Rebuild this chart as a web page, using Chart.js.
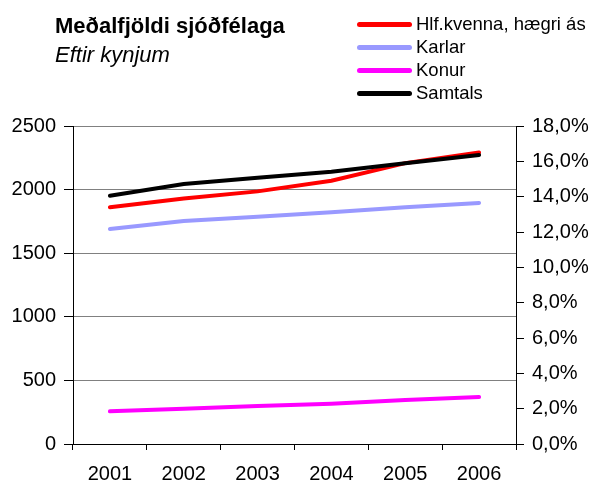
<!DOCTYPE html>
<html>
<head>
<meta charset="utf-8">
<script src="https://cdn.jsdelivr.net/npm/chart.js@4/dist/chart.umd.min.js"></script>
<style>
  body { margin: 0; background: #fff; font-family: "Liberation Sans", Arial, sans-serif; }
  #wrap { position: relative; width: 593px; height: 483px; }
  #title { position: absolute; left: 55px; top: 13px; font-size: 22px; font-weight: bold; color: #000; }
  #sub { position: absolute; left: 55px; top: 42px; font-size: 22px; font-style: italic; color: #000; }
  #legend { position: absolute; left: 357px; top: 12px; font-size: 18.5px; color: #000; }
  #legend div { height: 23px; line-height: 23px; white-space: nowrap; }
  #legend span.l { display: inline-block; width: 55px; height: 5px; border-radius: 2.5px; vertical-align: middle; margin-right: 4px; position: relative; top: -1px; }
</style>
</head>
<body>
<div id="wrap">
  <canvas id="chart" width="593" height="483"></canvas>
  <div id="title">Meðalfjöldi sjóðfélaga</div>
  <div id="sub">Eftir kynjum</div>
  <div id="legend"></div>
</div>
<script>
const years = ["2001", "2002", "2003", "2004", "2005", "2006"];
const hlfKvenna = [13.4, 13.9, 14.3, 14.9, 15.9, 16.5];
const karlar = [1690, 1753, 1787, 1821, 1861, 1895];
const konur = [257, 278, 299, 317, 346, 369];
const samtals = [1952, 2044, 2094, 2141, 2207, 2272];
const names = ["Hlf.kvenna, hægri ás", "Karlar", "Konur", "Samtals"];
const colors = ["#ff0000", "#9999ff", "#ff00ff", "#000000"];

const FONT = { family: "'Liberation Sans', Arial, sans-serif", size: 20 };

const mk = (i, data, axis) => ({
  label: names[i],
  data: data,
  yAxisID: axis,
  borderColor: colors[i],
  backgroundColor: colors[i],
  borderWidth: 4,
  pointRadius: 0,
  tension: 0,
  borderCapStyle: "round"
});

new Chart(document.getElementById("chart"), {
  type: "line",
  data: {
    labels: years,
    datasets: [
      mk(3, samtals, "y"),
      mk(2, konur, "y"),
      mk(1, karlar, "y"),
      mk(0, hlfKvenna, "y1")
    ]
  },
  options: {
    responsive: false,
    animation: false,
    layout: { padding: { top: 126, left: 0, right: 0, bottom: 0 } },
    plugins: { legend: { display: false }, tooltip: { enabled: false } },
    scales: {
      x: {
        offset: true,
        grid: { offset: true, drawOnChartArea: false, tickColor: "#000", tickLength: 6 },
        border: { color: "#000", width: 1 },
        ticks: { color: "#000", font: FONT, padding: 12 },
        afterFit: s => { s.height = 39; }
      },
      y: {
        position: "left",
        min: 0, max: 2500,
        ticks: { stepSize: 500, color: "#000", font: FONT, padding: 8, callback: v => String(v) },
        grid: { color: "#808080", tickColor: "#000", tickLength: 9 },
        border: { color: "#000", width: 1 },
        afterFit: s => { s.width = 73; }
      },
      y1: {
        position: "right",
        min: 0, max: 18,
        ticks: {
          stepSize: 2, color: "#000", font: FONT, padding: 8,
          callback: v => v.toFixed(1).replace(".", ",") + "%"
        },
        grid: { drawOnChartArea: false, tickColor: "#000", tickLength: 8 },
        border: { color: "#000", width: 1 },
        afterFit: s => { s.width = 77; }
      }
    }
  }
});

const leg = document.getElementById("legend");
names.forEach((n, i) => {
  const d = document.createElement("div");
  d.innerHTML = '<span class="l" style="background:' + colors[i] + '"></span>' + n;
  leg.appendChild(d);
});
</script>
</body>
</html>
